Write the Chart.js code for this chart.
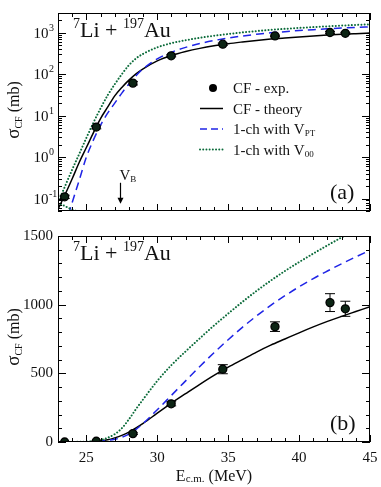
<!DOCTYPE html>
<html lang="en">
<head>
<meta charset="UTF-8" />
<title>CF - 7Li + 197Au</title>
<script src="https://cdn.jsdelivr.net/npm/chart.js@4.4.0/dist/chart.umd.min.js"></script>
<style>
  body { margin: 0; background: #fff; }
  .painel { position: absolute; left: 0; }
</style>
</head>
<body>
<canvas id="graficoLog" class="painel" width="381" height="225" style="top:0"></canvas>
<canvas id="graficoLin" class="painel" width="381" height="262" style="top:225px"></canvas>
<script>
// dados experimentais (CF - exp.)
const energiaExp = [23.47, 25.7, 28.28, 30.98, 34.62, 38.3, 42.18, 43.26];
const sigmaExp = [0.11, 5.3, 61, 278, 530, 840, 1015, 970];
const erroExp = [0.01, 0.5, 6, 15, 33, 35, 65, 55];

// curvas teoricas
const energiaTeo = [23, 23.5, 24, 24.5, 25, 25.5, 26, 26.5, 27, 27.5, 28, 28.5, 29,
  30, 31, 32, 33, 34, 35, 36, 37, 38, 39, 40, 41, 42, 43, 44, 45];
const sigmaTeoria = [0.055, 0.125, 0.3, 0.75, 1.7, 3.9, 8.5, 16, 30, 48, 72, 102, 135,
  210, 283, 352, 420, 485, 545, 600, 655, 705, 750, 795, 838, 878, 915, 950, 985];
const sigmaVpt = [0.005, 0.022, 0.08, 0.28, 1.0, 2.6, 5.9, 11.5, 20, 35, 58, 92, 135,
  235, 340, 445, 550, 650, 745, 835, 918, 995, 1065, 1130, 1190, 1245, 1298, 1348, 1395];
const sigmaV00 = [0.08, 0.2, 0.5, 1.2, 2.9, 6.8, 15, 31, 57, 100, 165, 240, 310,
  445, 560, 660, 755, 848, 935, 1020, 1100, 1175, 1245, 1310, 1372, 1432, 1490, 1545, 1598];
// pedaco da curva V00 que volta pela esquerda
const energiaCauda = [23.0, 23.4, 23.8, 24.2, 24.6];
const sigmaCauda = [0.08, 0.068, 0.058, 0.051, 0.045];

// eixos
const ticksX = [25, 30, 35, 40, 45];
const ticksLin = [0, 500, 1000, 1500];
const decadas = [-1, 0, 1, 2, 3];

const FONTE = '"Liberation Serif", "DejaVu Serif", serif';
const AZUL = '#1f24e6';
const VERDE = '#0b6b3a';

function pares(xs, ys) {
  return xs.map((x, i) => ({ x: x, y: ys[i] }));
}

function textoRico(ctx, partes, x, y, alinhar) {
  let largura = 0;
  partes.forEach(p => {
    ctx.font = p[1] + 'px ' + FONTE;
    largura += ctx.measureText(p[0]).width;
  });
  let cx = x;
  if (alinhar === 'right') cx = x - largura;
  if (alinhar === 'center') cx = x - largura / 2;
  partes.forEach(p => {
    ctx.font = p[1] + 'px ' + FONTE;
    ctx.fillText(p[0], cx, y + (p[2] || 0));
    cx += ctx.measureText(p[0]).width;
  });
}

function linha(ctx, x1, y1, x2, y2) {
  ctx.beginPath();
  ctx.moveTo(x1, y1);
  ctx.lineTo(x2, y2);
  ctx.stroke();
}

const errosPlugin = {
  id: 'erros',
  beforeDatasetsDraw(chart) {
    const { ctx, scales, chartArea: a } = chart;
    ctx.save();
    ctx.beginPath();
    ctx.rect(a.left, a.top, a.right - a.left, a.bottom - a.top);
    ctx.clip();
    ctx.strokeStyle = '#000';
    ctx.lineWidth = 1;
    for (let i = 0; i < energiaExp.length; i++) {
      const px = scales.x.getPixelForValue(energiaExp[i]);
      const y1 = scales.y.getPixelForValue(sigmaExp[i] + erroExp[i]);
      const y2 = scales.y.getPixelForValue(Math.max(sigmaExp[i] - erroExp[i], 0.001));
      linha(ctx, px, y1, px, y2);
      linha(ctx, px - 5, y1, px + 5, y1);
      linha(ctx, px - 5, y2, px + 5, y2);
    }
    ctx.restore();
  }
};

const molduraPlugin = {
  id: 'moldura',
  afterDraw(chart, args, op) {
    const { ctx, scales, chartArea: a } = chart;
    const sx = scales.x, sy = scales.y;
    ctx.save();
    ctx.strokeStyle = '#000';
    ctx.fillStyle = '#111';
    ctx.lineWidth = 1;
    ctx.strokeRect(a.left + 0.5, a.top + 0.5, a.right - a.left - 1, a.bottom - a.top - 1);

    // ticks x (para dentro, em baixo e em cima)
    for (let e = 23; e <= 45; e++) {
      const px = Math.round(sx.getPixelForValue(e)) + 0.5;
      const len = e % 5 === 0 ? 7 : 4;
      linha(ctx, px, a.bottom, px, a.bottom - len);
      linha(ctx, px, a.top, px, a.top + len);
    }

    if (op.log) {
      for (let k = -2; k <= 3; k++) {
        for (let m = 1; m <= 9; m++) {
          const v = m * Math.pow(10, k);
          if (v < 0.05 || v > 3000) continue;
          const py = Math.round(sy.getPixelForValue(v)) + 0.5;
          const len = m === 1 ? 8 : 4;
          linha(ctx, a.left, py, a.left + len, py);
          linha(ctx, a.right, py, a.right - len, py);
        }
      }
      ctx.textBaseline = 'alphabetic';
      decadas.forEach(d => {
        const py = sy.getPixelForValue(Math.pow(10, d));
        textoRico(ctx, [['10', 15]], 48.5, py + 5, 'right');
        textoRico(ctx, [[d < 0 ? '-' + (-d) : String(d), 10]], 49, py - 2, 'left');
      });
    } else {
      for (let v = 0; v <= 1500; v += 100) {
        const py = Math.round(sy.getPixelForValue(v)) + 0.5;
        const len = v % 500 === 0 ? 8 : 4;
        linha(ctx, a.left, py, a.left + len, py);
        linha(ctx, a.right, py, a.right - len, py);
      }
      ctx.textBaseline = 'middle';
      ctx.textAlign = 'right';
      ctx.font = '15px ' + FONTE;
      ticksLin.forEach(v => ctx.fillText(String(v), 53, sy.getPixelForValue(v)));
      ctx.textAlign = 'center';
      ticksX.forEach(v => ctx.fillText(String(v), sx.getPixelForValue(v), a.bottom + 16));
      ctx.textAlign = 'left';
      ctx.textBaseline = 'alphabetic';
      textoRico(ctx, [['E', 16], ['c.m.', 11, 1], [' (MeV)', 16]], (a.left + a.right) / 2, a.bottom + 39, 'center');
    }

    // titulo do eixo y
    ctx.save();
    ctx.translate(19, (a.top + a.bottom) / 2 - 2);
    ctx.rotate(-Math.PI / 2);
    ctx.textBaseline = 'alphabetic';
    textoRico(ctx, [['\u03c3', 19], ['CF', 10, 3], [' (mb)', 16]], 0, 0, 'center');
    ctx.restore();

    // reacao
    textoRico(ctx, [['7', 14, -9], ['Li + ', 22], ['197', 14, -9], ['Au', 22]], 73, a.top + 24, 'left');

    // rotulo do painel
    textoRico(ctx, [[op.rotulo, 22]], 330, a.bottom - 12, 'left');

    if (op.log) {
      // V_B
      const xb = Math.round(sx.getPixelForValue(27.35)) + 0.5;
      const yTopo = sy.getPixelForValue(0.24);
      const yPonta = sy.getPixelForValue(0.075);
      ctx.lineWidth = 1.2;
      linha(ctx, xb, yTopo, xb, yPonta - 5);
      ctx.beginPath();
      ctx.moveTo(xb - 3, yPonta - 6);
      ctx.lineTo(xb + 3, yPonta - 6);
      ctx.lineTo(xb, yPonta);
      ctx.closePath();
      ctx.fillStyle = '#000';
      ctx.fill();
      ctx.fillStyle = '#111';
      textoRico(ctx, [['V', 15], ['B', 9, 2]], xb - 1, yTopo - 3, 'left');

      // legenda
      const linhas = [88, 108.5, 129, 149.5];
      const x1 = 200, x2 = 223, xt = 233;
      ctx.fillStyle = '#000';
      ctx.beginPath();
      ctx.arc(213, linhas[0], 4, 0, Math.PI * 2);
      ctx.fill();
      ctx.lineWidth = 1.5;
      ctx.strokeStyle = '#000';
      linha(ctx, x1, linhas[1], x2, linhas[1]);
      ctx.strokeStyle = AZUL;
      ctx.setLineDash([7, 4]);
      linha(ctx, x1, linhas[2], x2, linhas[2]);
      ctx.strokeStyle = VERDE;
      ctx.lineWidth = 2;
      ctx.lineCap = 'round';
      ctx.setLineDash([0.01, 3.2]);
      linha(ctx, x1, linhas[3], x2, linhas[3]);
      ctx.setLineDash([]);
      ctx.fillStyle = '#111';
      textoRico(ctx, [['CF - exp.', 15]], xt, linhas[0] + 5, 'left');
      textoRico(ctx, [['CF - theory', 15]], xt, linhas[1] + 5, 'left');
      textoRico(ctx, [['1-ch with V', 15], ['PT', 9, 2]], xt, linhas[2] + 5, 'left');
      textoRico(ctx, [['1-ch with V', 15], ['00', 9, 2]], xt, linhas[3] + 5, 'left');
    }
    ctx.restore();
  }
};

function montarDatasets() {
  return [
    {
      label: 'CF - exp.',
      data: pares(energiaExp, sigmaExp),
      showLine: false,
      pointRadius: 4,
      pointBackgroundColor: '#0c2414',
      pointBorderColor: '#000',
      pointBorderWidth: 1.3,
      order: 0
    },
    {
      label: 'CF - theory',
      data: pares(energiaTeo, sigmaTeoria),
      borderColor: '#000',
      borderWidth: 1.5,
      pointRadius: 0,
      cubicInterpolationMode: 'monotone',
      order: 3
    },
    {
      label: '1-ch with VPT',
      data: pares(energiaTeo, sigmaVpt),
      borderColor: AZUL,
      borderWidth: 1.5,
      borderDash: [8, 5],
      pointRadius: 0,
      cubicInterpolationMode: 'monotone',
      order: 2
    },
    {
      label: '1-ch with V00',
      data: pares(energiaTeo, sigmaV00),
      borderColor: VERDE,
      borderWidth: 2,
      borderDash: [0.01, 3.2],
      borderCapStyle: 'round',
      pointRadius: 0,
      cubicInterpolationMode: 'monotone',
      order: 1
    },
    {
      label: 'cauda',
      data: pares(energiaCauda, sigmaCauda),
      borderColor: VERDE,
      borderWidth: 2,
      borderDash: [0.01, 3.2],
      borderCapStyle: 'round',
      pointRadius: 0,
      cubicInterpolationMode: 'monotone',
      order: 1
    }
  ];
}

function criarGrafico(id, eixoY, padding, opMoldura) {
  return new Chart(document.getElementById(id), {
    type: 'line',
    data: { datasets: montarDatasets() },
    options: {
      responsive: false,
      animation: false,
      layout: { padding: padding },
      scales: {
        x: { type: 'linear', min: 23, max: 45, display: false },
        y: Object.assign({ display: false }, eixoY)
      },
      plugins: {
        legend: { display: false },
        tooltip: { enabled: false },
        moldura: opMoldura
      }
    },
    plugins: [errosPlugin, molduraPlugin]
  });
}

criarGrafico('graficoLog',
  { type: 'logarithmic', min: 0.05, max: 3000 },
  { left: 58, right: 11, top: 13, bottom: 14 },
  { log: true, rotulo: '(a)' });

criarGrafico('graficoLin',
  { type: 'linear', min: 0, max: 1500 },
  { left: 58, right: 11, top: 11, bottom: 45 },
  { log: false, rotulo: '(b)' });
</script>
</body>
</html>
